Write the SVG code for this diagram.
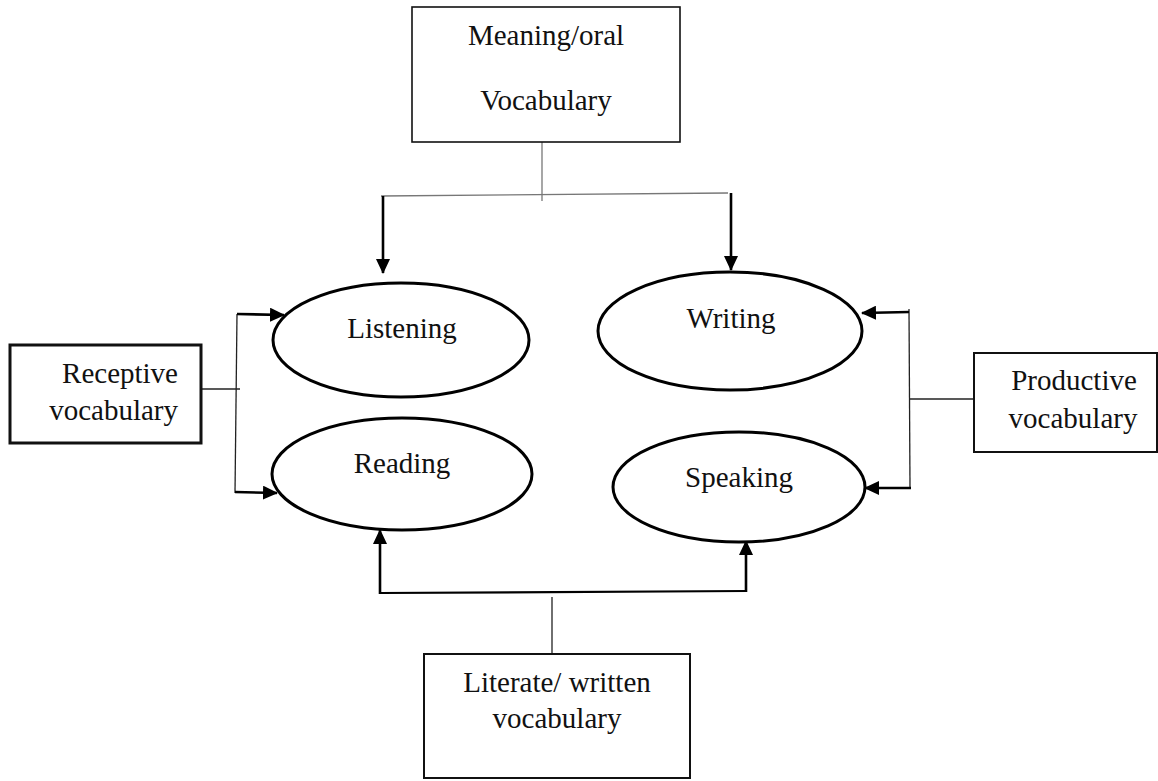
<svg xmlns="http://www.w3.org/2000/svg" width="1158" height="781" viewBox="0 0 1158 781">
<defs>
<marker id="ah" markerUnits="userSpaceOnUse" markerWidth="15" markerHeight="14" refX="14" refY="7" orient="auto">
<path d="M0,0 L15,7 L0,14 z" fill="#000"/>
</marker>
<style>
.box{fill:#fff;stroke:#111;stroke-width:2}
.ell{fill:#fff;stroke:#000;stroke-width:3}
.t{font-size:29px;fill:#111}
.c{text-anchor:middle}
.thin{fill:none;stroke:#777;stroke-width:1.3}
.thinb{fill:none;stroke:#222;stroke-width:1.3}
.arr{fill:none;stroke:#000;stroke-width:2.6;marker-end:url(#ah)}
.bar{fill:none;stroke:#000;stroke-width:2.2}
</style>
</defs>
<rect width="1158" height="781" fill="#fff"/>
<g id="connectors">
<line class="thin" x1="542" y1="142" x2="542" y2="201"/>
<line class="thin" x1="381" y1="196" x2="728" y2="193"/>
<line class="arr" x1="383" y1="196" x2="383" y2="273"/>
<line class="arr" x1="731" y1="193" x2="731" y2="270"/>
<line class="thinb" x1="201" y1="389" x2="240" y2="389"/>
<line class="thinb" x1="237" y1="314" x2="235" y2="493"/>
<line class="arr" x1="237" y1="314" x2="284" y2="315"/>
<line class="arr" x1="235" y1="492" x2="277" y2="493"/>
<line class="thinb" x1="909" y1="309" x2="910" y2="487"/>
<line class="thinb" x1="909" y1="399" x2="974" y2="399"/>
<line class="arr" x1="909" y1="312" x2="862" y2="313"/>
<line class="arr" x1="911" y1="488" x2="865" y2="488"/>
<line class="bar" x1="380" y1="593" x2="746" y2="591"/>
<line class="arr" x1="380" y1="594" x2="380" y2="530"/>
<line class="arr" x1="746" y1="592" x2="746" y2="541"/>
<line class="thinb" x1="552" y1="597" x2="552" y2="656"/>
</g>
<g font-family="'Liberation Serif', 'Times New Roman', serif">
<g id="meaning-oral">
<rect class="box" x="412" y="7" width="268" height="135" style="stroke-width:1.6"/>
<text class="t c" x="546" y="45">Meaning/oral</text>
<text class="t c" x="546" y="110">Vocabulary</text>
</g>
<g id="receptive">
<rect class="box" x="10" y="345" width="191" height="98" style="stroke-width:3"/>
<text class="t" x="178" y="383" text-anchor="end">Receptive</text>
<text class="t" x="178" y="420" text-anchor="end">vocabulary</text>
</g>
<g id="productive">
<rect class="box" x="974" y="353" width="183" height="99"/>
<text class="t c" x="1074" y="390">Productive</text>
<text class="t c" x="1073" y="428">vocabulary</text>
</g>
<g id="literate">
<rect class="box" x="424" y="654" width="266" height="124"/>
<text class="t c" x="557" y="692">Literate/ written</text>
<text class="t c" x="557" y="728">vocabulary</text>
</g>
<g id="listening">
<ellipse class="ell" cx="401" cy="340" rx="128" ry="57"/>
<text class="t c" x="402" y="338">Listening</text>
</g>
<g id="writing">
<ellipse class="ell" cx="730" cy="331" rx="132" ry="59"/>
<text class="t c" x="731" y="328">Writing</text>
</g>
<g id="reading">
<ellipse class="ell" cx="402" cy="474" rx="130" ry="56"/>
<text class="t c" x="402" y="473">Reading</text>
</g>
<g id="speaking">
<ellipse class="ell" cx="739" cy="487" rx="126" ry="55"/>
<text class="t c" x="739" y="487">Speaking</text>
</g>
</g>
</svg>
